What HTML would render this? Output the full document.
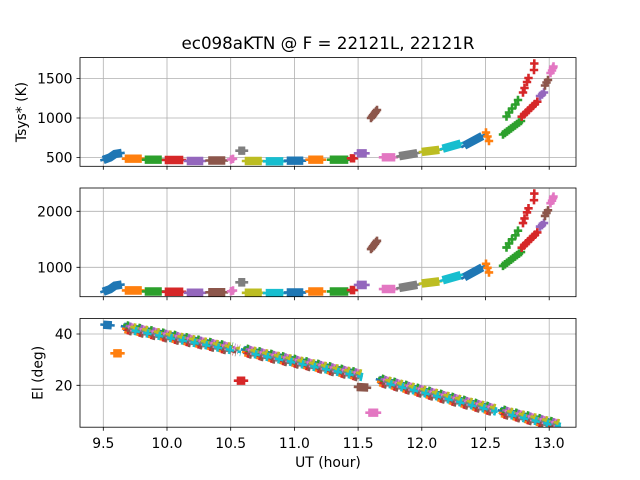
<!DOCTYPE html>
<html><head><meta charset="utf-8">
<style>
html,body{margin:0;padding:0;background:#fff}
svg{display:block}
text{font-family:"DejaVu Sans","Liberation Sans",sans-serif;fill:#000}
</style></head>
<body>
<svg width="640" height="480" viewBox="0 0 640 480" xmlns="http://www.w3.org/2000/svg">
<defs>
<path id="p" d="M-4.2-1.3h8.4v2.6h-8.4zM-1.3-4.2h2.6v8.4h-2.6z"/>
<clipPath id="k1"><rect x="80" y="57.6" width="496" height="108.7"/></clipPath>
<clipPath id="k2"><rect x="80" y="188" width="496" height="108.7"/></clipPath>
<clipPath id="k3"><rect x="80" y="318.5" width="496" height="108.7"/></clipPath>
<g id="ts">
 <g fill="none" stroke="#1f77b4"><path d="M100.3,160.5L110,157.5L115,154L124.7,152.8" stroke-width="2.6"/><path d="M103.2,160L110,157.5L115,154L121.8,152.9" stroke-width="8.4"/></g>
 <g fill="none" stroke="#ff7f0e"><path d="M121.8,158.7H144.7" stroke-width="2.6"/><path d="M124.7,158.7H141.8" stroke-width="8.4"/></g>
 <g fill="none" stroke="#2ca02c"><path d="M141.8,159.7H164.7" stroke-width="2.6"/><path d="M144.7,159.7H161.8" stroke-width="8.4"/></g>
 <g fill="none" stroke="#d62728"><path d="M161.8,160H186.2" stroke-width="2.6"/><path d="M164.7,160H183.3" stroke-width="8.4"/></g>
 <g fill="none" stroke="#9467bd"><path d="M183.8,161H206.2" stroke-width="2.6"/><path d="M186.7,161H203.3" stroke-width="8.4"/></g>
 <g fill="none" stroke="#8c564b"><path d="M205.3,160.5H228.2" stroke-width="2.6"/><path d="M208.2,160.5H225.3" stroke-width="8.4"/></g>
 <g fill="#e377c2"><use href="#p" x="231" y="159.5"/><use href="#p" x="233" y="158.8"/></g>
 <g fill="none" stroke="#7f7f7f"><path d="M235.3,150.7H248.2" stroke-width="2.6"/><path d="M238.2,150.7H245.3" stroke-width="8.4"/></g>
 <g fill="none" stroke="#bcbd22"><path d="M241.8,161H264.7" stroke-width="2.6"/><path d="M244.7,161H261.8" stroke-width="8.4"/></g>
 <g fill="none" stroke="#17becf"><path d="M262.8,161.3H286.2" stroke-width="2.6"/><path d="M265.7,161.3H283.3" stroke-width="8.4"/></g>
 <g fill="none" stroke="#1f77b4"><path d="M283.8,160.7H306.2" stroke-width="2.6"/><path d="M286.7,160.7H303.3" stroke-width="8.4"/></g>
 <g fill="none" stroke="#ff7f0e"><path d="M305.3,159.7H326.2" stroke-width="2.6"/><path d="M308.2,159.7H323.3" stroke-width="8.4"/></g>
 <g fill="none" stroke="#2ca02c"><path d="M326.8,159.7H351.2" stroke-width="2.6"/><path d="M329.7,159.7H348.3" stroke-width="8.4"/></g>
 <g fill="none" stroke="#d62728"><path d="M346.8,158.3H358.2" stroke-width="2.6"/><path d="M349.7,158.3H355.3" stroke-width="8.4"/></g>
 <g fill="none" stroke="#9467bd"><path d="M353.8,153.3H369.7" stroke-width="2.6"/><path d="M356.7,153.3H366.8" stroke-width="8.4"/></g>
 <g fill="#8c564b"><use href="#p" x="371" y="118"/><use href="#p" x="372" y="116.7"/><use href="#p" x="373" y="115.3"/><use href="#p" x="374" y="114"/><use href="#p" x="375" y="112.7"/><use href="#p" x="376" y="111.3"/><use href="#p" x="377" y="110"/></g>
 <g fill="none" stroke="#e377c2"><path d="M378.8,157.3H398.2" stroke-width="2.6"/><path d="M381.7,157.3H395.3" stroke-width="8.4"/></g>
 <g fill="none" stroke="#7f7f7f"><path d="M396.3,156.7L420.2,152.6" stroke-width="2.6"/><path d="M399.2,156.2L417.3,153.1" stroke-width="8.4"/></g>
 <g fill="none" stroke="#bcbd22"><path d="M418.8,152.2L442.2,149.5" stroke-width="2.6"/><path d="M421.7,151.9L439.3,149.8" stroke-width="8.4"/></g>
 <g fill="none" stroke="#17becf"><path d="M439.8,149.5L463.7,142.8" stroke-width="2.6"/><path d="M442.7,148.7L460.8,143.6" stroke-width="8.4"/></g>
 <g fill="none" stroke="#1f77b4"><path d="M461.3,147.3L485.2,134.4" stroke-width="2.6"/><path d="M464.2,145.7L482.3,136" stroke-width="8.4"/></g>
 <g fill="#ff7f0e"><use href="#p" x="486" y="132.5"/><use href="#p" x="487.5" y="136.5"/><use href="#p" x="489" y="141"/></g>
 <g fill="#2ca02c"><use href="#p" x="503" y="134.5"/><use href="#p" x="505" y="133"/><use href="#p" x="507" y="131.5"/><use href="#p" x="509" y="130"/><use href="#p" x="511" y="128.5"/><use href="#p" x="513" y="127"/><use href="#p" x="515" y="125.5"/><use href="#p" x="517" y="124"/><use href="#p" x="519" y="122.5"/><use href="#p" x="521" y="121"/>
 <use href="#p" x="506.5" y="116.5"/><use href="#p" x="509" y="112.5"/><use href="#p" x="512" y="108.5"/><use href="#p" x="515.5" y="104.5"/><use href="#p" x="518" y="100"/></g>
 <g fill="#d62728"><use href="#p" x="521.7" y="116.7"/><use href="#p" x="524" y="114.6"/><use href="#p" x="526.1" y="112.4"/><use href="#p" x="528.4" y="110.3"/><use href="#p" x="530.6" y="108.1"/><use href="#p" x="532.8" y="106"/><use href="#p" x="535" y="103.9"/><use href="#p" x="537.3" y="101.7"/>
 <use href="#p" x="523" y="92.5"/><use href="#p" x="524.5" y="88"/><use href="#p" x="527" y="82"/><use href="#p" x="528.5" y="78"/><use href="#p" x="534" y="70"/><use href="#p" x="534.3" y="63.5"/></g>
 <g fill="#9467bd"><use href="#p" x="540" y="96"/><use href="#p" x="542" y="94.5"/><use href="#p" x="544" y="92.5"/></g>
 <g fill="#8c564b"><use href="#p" x="545" y="85.5"/><use href="#p" x="546.5" y="82.5"/><use href="#p" x="548" y="80"/></g>
 <g fill="#e377c2"><use href="#p" x="550.5" y="73"/><use href="#p" x="552" y="70.5"/><use href="#p" x="553" y="68"/><use href="#p" x="553.5" y="66.5"/></g>
</g>
<g id="bands" fill="none">
 <path d="M120.8,324.16L230.1,346" stroke-width="2.6" stroke-dasharray="8.4 3.6"/>
 <path d="M120.8,324.16L230.1,346" stroke-width="8.4" stroke-dasharray="2.6 9.4" stroke-dashoffset="9.1"/>
 <path d="M240.8,347.4L351.8,371.05" stroke-width="2.6" stroke-dasharray="8.4 3.6"/>
 <path d="M240.8,347.4L351.8,371.05" stroke-width="8.4" stroke-dasharray="2.6 9.4" stroke-dashoffset="9.1"/>
 <path d="M375.8,377.2L486.8,405.9" stroke-width="2.6" stroke-dasharray="8.4 3.6"/>
 <path d="M375.8,377.2L486.8,405.9" stroke-width="8.4" stroke-dasharray="2.6 9.4" stroke-dashoffset="9.1"/>
 <path d="M497.5,408.3L550.1,420.9" stroke-width="2.6" stroke-dasharray="8.4 3.6"/>
 <path d="M497.5,408.3L550.1,420.9" stroke-width="8.4" stroke-dasharray="2.6 9.4" stroke-dashoffset="9.1"/>
</g>
</defs>

<rect width="640" height="480" fill="#fff"/>

<!-- grids -->
<g stroke="#b0b0b0" stroke-width="0.8" fill="none">
 <path d="M103.3,57.6V166.3M167,57.6V166.3M230.7,57.6V166.3M294.4,57.6V166.3M358.1,57.6V166.3M421.8,57.6V166.3M485.5,57.6V166.3M549.2,57.6V166.3M80,157.5H576M80,118H576M80,78.5H576"/>
 <path d="M103.3,188V296.7M167,188V296.7M230.7,188V296.7M294.4,188V296.7M358.1,188V296.7M421.8,188V296.7M485.5,188V296.7M549.2,188V296.7M80,267.3H576M80,211.3H576"/>
 <path d="M103.3,318.5V427.2M167,318.5V427.2M230.7,318.5V427.2M294.4,318.5V427.2M358.1,318.5V427.2M421.8,318.5V427.2M485.5,318.5V427.2M549.2,318.5V427.2M80,334H576M80,385.3H576"/>
</g>

<!-- panel 1 & 2 data -->
<g clip-path="url(#k1)"><use href="#ts"/></g>
<g clip-path="url(#k2)"><use href="#ts" transform="matrix(1,0,0,1.018,0,128.9)"/></g>

<!-- panel 3 data -->
<g clip-path="url(#k3)">
 <g fill="none" stroke="#1f77b4"><path d="M100.3,324.5L114.7,325.5" stroke-width="2.6"/><path d="M103.2,324.7L111.8,325.3" stroke-width="8.4"/></g>
 <g fill="none" stroke="#ff7f0e"><path d="M110.3,353.3H124.7" stroke-width="2.6"/><path d="M113.2,353.3H121.8" stroke-width="8.4"/></g>
 <use href="#bands" stroke="#1f77b4" transform="translate(0,1.9)"/>
 <use href="#bands" stroke="#ff7f0e" transform="translate(1.2,4.36)"/>
 <use href="#bands" stroke="#2ca02c" transform="translate(2.4,0.53)"/>
 <use href="#bands" stroke="#d62728" transform="translate(3.6,5.44)"/>
 <use href="#bands" stroke="#9467bd" transform="translate(4.8,1.66)"/>
 <use href="#bands" stroke="#8c564b" transform="translate(6,6.22)"/>
 <use href="#bands" stroke="#e377c2" transform="translate(7.2,2.48)"/>
 <use href="#bands" stroke="#7f7f7f" transform="translate(8.4,4.1)"/>
 <use href="#bands" stroke="#bcbd22" transform="translate(9.6,2.56)"/>
 <use href="#bands" stroke="#17becf" transform="translate(10.8,6.13)"/>
 <g fill="none" stroke="#d62728"><path d="M233.8,380.7H248.2" stroke-width="2.6"/><path d="M236.7,380.7H245.3" stroke-width="8.4"/></g>
 <g fill="none" stroke="#8c564b"><path d="M353.8,386.8L371.2,387.8" stroke-width="2.6"/><path d="M356.7,387L368.3,387.6" stroke-width="8.4"/></g>
 <g fill="none" stroke="#e377c2"><path d="M365.3,412.7H381.2" stroke-width="2.6"/><path d="M368.2,412.7H378.3" stroke-width="8.4"/></g>
</g>

<!-- spines & ticks -->
<g stroke="#000" stroke-width="0.8" fill="none">
 <rect x="80" y="57.6" width="496" height="108.7"/>
 <rect x="80" y="188" width="496" height="108.7"/>
 <rect x="80" y="318.5" width="496" height="108.7"/>
 <path d="M103.3,166.3v3.5M167,166.3v3.5M230.7,166.3v3.5M294.4,166.3v3.5M358.1,166.3v3.5M421.8,166.3v3.5M485.5,166.3v3.5M549.2,166.3v3.5"/>
 <path d="M103.3,296.7v3.5M167,296.7v3.5M230.7,296.7v3.5M294.4,296.7v3.5M358.1,296.7v3.5M421.8,296.7v3.5M485.5,296.7v3.5M549.2,296.7v3.5"/>
 <path d="M103.3,427.2v3.5M167,427.2v3.5M230.7,427.2v3.5M294.4,427.2v3.5M358.1,427.2v3.5M421.8,427.2v3.5M485.5,427.2v3.5M549.2,427.2v3.5"/>
 <path d="M80,157.5h-3.5M80,118h-3.5M80,78.5h-3.5M80,267.3h-3.5M80,211.3h-3.5M80,334h-3.5M80,385.3h-3.5"/>
</g>

<!-- text -->
<text x="328" y="49" font-size="16.7" text-anchor="middle">ec098aKTN @ F = 22121L, 22121R</text>
<g font-size="13.9" text-anchor="end">
 <text x="72.5" y="162.5">500</text>
 <text x="72.5" y="123">1000</text>
 <text x="72.5" y="83.5">1500</text>
 <text x="72.5" y="272.3">1000</text>
 <text x="72.5" y="216.3">2000</text>
 <text x="72.5" y="339">40</text>
 <text x="72.5" y="390.3">20</text>
</g>
<g font-size="13.9" text-anchor="middle">
 <text x="103.3" y="448">9.5</text>
 <text x="167" y="448">10.0</text>
 <text x="230.7" y="448">10.5</text>
 <text x="294.4" y="448">11.0</text>
 <text x="358.1" y="448">11.5</text>
 <text x="421.8" y="448">12.0</text>
 <text x="485.5" y="448">12.5</text>
 <text x="549.2" y="448">13.0</text>
 <text x="328" y="467">UT (hour)</text>
 <text transform="translate(26,112) rotate(-90)">Tsys* (K)</text>
 <text transform="translate(42.5,372.9) rotate(-90)">El (deg)</text>
</g>
</svg>
</body></html>
